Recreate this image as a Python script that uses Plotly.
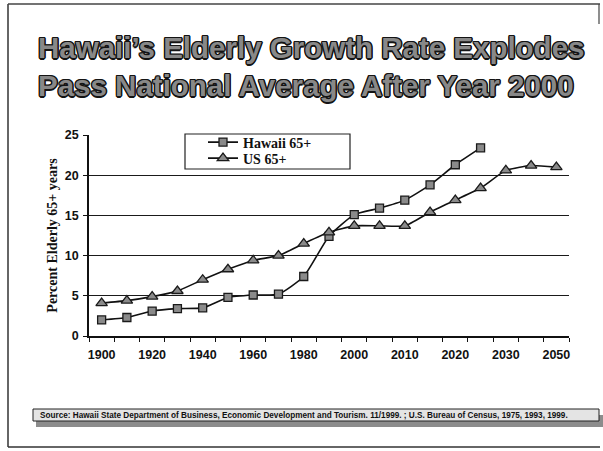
import plotly.graph_objects as go

# ---- data ----
years = ["1900", "1910", "1920", "1930", "1940", "1950", "1960", "1970", "1980", "1990",
         "2000", "2005", "2010", "2015", "2020", "2025", "2030", "2040", "2050"]
tick_labels = ["1900", "", "1920", "", "1940", "", "1960", "", "1980", "",
               "2000", "", "2010", "", "2020", "", "2030", "", "2050"]
hawaii_years = years[:16]
hawaii_65 = [2.0, 2.3, 3.1, 3.4, 3.5, 4.8, 5.1, 5.2, 7.4, 12.4,
             15.1, 15.9, 16.9, 18.8, 21.3, 23.4]
us_65 = [4.1, 4.4, 4.9, 5.6, 7.0, 8.3, 9.4, 10.0, 11.5, 12.9,
         13.7, 13.7, 13.7, 15.4, 16.9, 18.4, 20.6, 21.2, 21.0]
y_ticks = [0, 5, 10, 15, 20, 25]
grid_vals = [5, 10, 15, 20]

W, H = 603, 451
L, R, T, B = 89, 34, 135, 115
pw, ph = W - L - R, H - T - B


def px(x):
    return (x - L) / pw


def py(y):
    return (H - B - y) / ph


fig = go.Figure()
fig.add_trace(go.Scatter(
    x=hawaii_years, y=hawaii_65, name="Hawaii 65+", mode="lines+markers",
    yaxis="y", legend="legend",
    line=dict(color="#111111", width=1.6, shape="spline", smoothing=0.5),
    marker=dict(symbol="square", size=8, color="#8a8a8a",
                line=dict(color="#1a1a1a", width=1.3)),
))
fig.add_trace(go.Scatter(
    x=years, y=us_65, name="US 65+", mode="lines+markers",
    yaxis="y2", legend="legend2",
    line=dict(color="#111111", width=1.6, shape="spline", smoothing=0.5),
    marker=dict(symbol="triangle-up", size=10, color="#8a8a8a",
                line=dict(color="#1a1a1a", width=1.3)),
))

tick_font = dict(family="Liberation Sans", size=12.5, color="#111111", weight="bold")
legend_font = dict(family="Liberation Serif", size=14, color="#111111", weight="bold")

fig.update_layout(
    width=W, height=H, autosize=False,
    margin=dict(l=L, r=R, t=T, b=B),
    paper_bgcolor="white", plot_bgcolor="white",
    title=dict(
        text="Hawaii’s Elderly Growth Rate Explodes<br>Pass National Average After Year 2000",
        x=38 / W, xref="container", xanchor="left",
        y=1 - 58 / H, yref="container", yanchor="top",
        font=dict(family="Liberation Sans", size=29.5, color="#888888", weight="bold",
                  shadow="1px 1px 0 #141414, -1px -1px 0 #141414, 1px -1px 0 #141414, -1px 1px 0 #141414, 0 1.5px 0 #141414, 1.5px 0 0 #141414, 0 -1.2px 0 #141414, -1.2px 0 0 #141414"),
    ),
    xaxis=dict(
        type="category", categoryorder="array", categoryarray=years,
        range=[-0.5, len(years) - 0.5],
        tickmode="array", tickvals=years, ticktext=tick_labels, tickangle=0,
        tickson="boundaries", ticks="outside", ticklen=4, tickwidth=1.2, tickcolor="#111111",
        showline=True, linecolor="#111111", linewidth=1.5,
        showgrid=False, zeroline=False, tickfont=tick_font, ticklabelstandoff=6,
    ),
    yaxis=dict(
        range=[0, 25], tickmode="array", tickvals=grid_vals,
        showgrid=True, gridcolor="#1a1a1a", gridwidth=1.2,
        showticklabels=False, ticks="", showline=False, zeroline=False,
    ),
    yaxis2=dict(
        overlaying="y", side="left", range=[0, 25],
        tickmode="array", tickvals=y_ticks,
        ticks="outside", ticklen=4, tickwidth=1.2, tickcolor="#111111",
        showline=True, linecolor="#111111", linewidth=1.5,
        showgrid=False, zeroline=False, tickfont=tick_font, ticklabelstandoff=2,
        title=dict(text="Percent Elderly 65+ years", standoff=4,
                   font=dict(family="Liberation Serif", size=14, color="#111111", weight="bold")),
    ),
    showlegend=True,
    legend=dict(
        x=px(203), y=py(126.5), xanchor="left", yanchor="top",
        bgcolor="rgba(0,0,0,0)", borderwidth=0, font=legend_font, itemwidth=30,
    ),
    legend2=dict(
        x=px(203), y=py(142.5), xanchor="left", yanchor="top",
        bgcolor="rgba(0,0,0,0)", borderwidth=0, font=legend_font, itemwidth=30,
    ),
)

shapes = [
    # legend box
    dict(type="rect", xref="paper", yref="paper", x0=px(185), x1=px(350), y0=py(134), y1=py(169),
         line=dict(color="#222222", width=1.2), fillcolor="rgba(0,0,0,0)", layer="above"),
    # source box shadow
    dict(type="rect", xref="paper", yref="paper", x0=px(36), x1=px(603), y0=py(415), y1=py(427),
         line=dict(width=0), fillcolor="#8c8c8c", layer="above"),
    # source box
    dict(type="rect", xref="paper", yref="paper", x0=px(33), x1=px(599), y0=py(409), y1=py(421),
         line=dict(color="#222222", width=1), fillcolor="#e4e4e4", layer="above"),
    # slide frame
    dict(type="line", xref="paper", yref="paper", x0=px(8), x1=px(8), y0=py(4), y1=py(447),
         line=dict(color="#333333", width=1.5)),
    dict(type="line", xref="paper", yref="paper", x0=px(8), x1=px(600), y0=py(4), y1=py(4),
         line=dict(color="#444444", width=1.5)),
    dict(type="line", xref="paper", yref="paper", x0=px(8), x1=px(600), y0=py(447), y1=py(447),
         line=dict(color="#333333", width=1.5)),
    dict(type="line", xref="paper", yref="paper", x0=px(599), x1=px(599), y0=py(4), y1=py(24),
         line=dict(color="#444444", width=1.2)),
]
fig.update_layout(shapes=shapes)

fig.add_annotation(
    text="Source: Hawaii State Department of Business, Economic Development and Tourism. 11/1999. ; U.S. Bureau of Census, 1975, 1993, 1999.",
    xref="paper", yref="paper", x=px(38), y=py(415), xanchor="left", yanchor="middle",
    showarrow=False,
    font=dict(family="Liberation Sans", size=8.2, color="#111111", weight="bold"),
)

fig.write_html("out.html")
